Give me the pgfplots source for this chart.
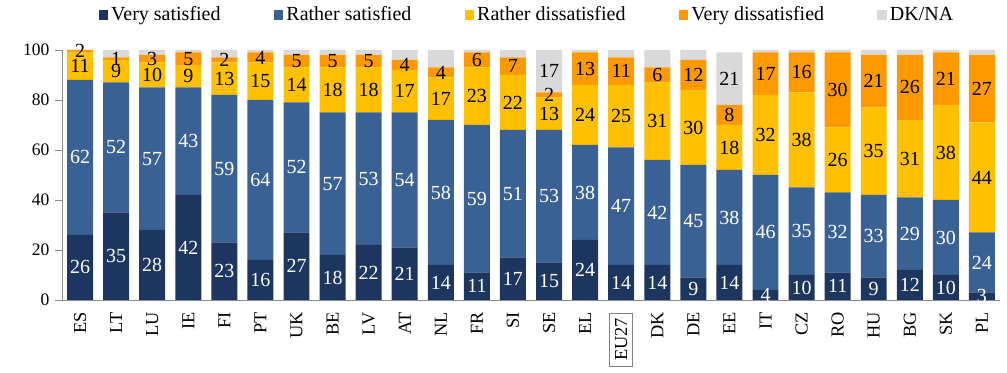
\documentclass[border=0pt]{standalone}
\usepackage{pgfplots}
\pgfplotsset{compat=1.18}
\usepackage{pgfplotstable}
\usepackage{fontspec}
\setmainfont{Liberation Serif}
\definecolor{cVS}{HTML}{1C3660}
\definecolor{cRS}{HTML}{3A6194}
\definecolor{cRD}{HTML}{FFC000}
\definecolor{cVD}{HTML}{FF9900}
\definecolor{cDK}{HTML}{D9D9D9}
\definecolor{axgray}{HTML}{8C8C8C}
\pgfplotstableread{
x vs rs rd vd dk vdl
0 26 62 11 1 0 2
1 35 52 9 1 3 1
2 28 57 10 3 2 3
3 42 43 9 5 1 5
4 23 59 13 2 3 2
5 16 64 15 4 1 4
6 27 52 14 5 2 5
7 18 57 18 5 2 5
8 22 53 18 5 2 5
9 21 54 17 4 4 4
10 14 58 17 4 7 4
11 11 59 23 6 1 6
12 17 51 22 7 3 7
13 15 53 13 2 17 2
14 24 38 24 13 1 13
15 14 47 25 11 3 11
16 14 42 31 6 7 6
17 9 45 30 12 4 12
18 14 38 18 8 21 8
19 4 46 32 17 1 17
20 10 35 38 16 1 16
21 11 32 26 30 1 30
22 9 33 35 21 2 21
23 12 29 31 26 2 26
24 10 30 38 21 1 21
25 3 24 44 27 2 27
}\data
\pgfplotsset{
  seg/.style n args={3}{fill=#2, draw=none,
    visualization depends on={\thisrow{#1} \as \myval},
    nodes near coords={\pgfmathprintnumber{\myval}},
    every node near coord/.append style={text=#3, anchor=center,
      font=\fontsize{12}{12}\selectfont, inner sep=0pt}}
}
\begin{document}
\begin{tikzpicture}
\begin{axis}[
  scale only axis, width=562.8pt, height=150pt,
  ybar stacked, bar width=0.72,
  xmin=-0.5, xmax=25.5, ymin=0, ymax=100, enlargelimits=false,
  axis x line*=bottom, axis y line*=left,
  axis line style={axgray},
  every tick/.style={axgray},
  tick align=outside,
  ytick={0,20,...,100},
  major tick length=4pt,
  xtick=data,
  x tick style={draw=none},
  minor xtick={-0.5,0.5,...,25.5},
  minor x tick style={axgray},
  minor tick length=4pt,
  xticklabels={ES,LT,LU,IE,FI,PT,UK,BE,LV,AT,NL,FR,SI,SE,EL,{\fcolorbox{gray}{white}{EU27}},DK,DE,EE,IT,CZ,RO,HU,BG,SK,PL},
  x tick label style={rotate=90, anchor=east, font=\fontsize{11}{11}\selectfont},
  y tick label style={font=\fontsize{10.5}{10.5}\selectfont},
  /pgf/number format/assume math mode=true,
  legend columns=5,
  legend style={draw=none, at={(0.5,1)}, anchor=center, yshift=21pt, xshift=-2pt,
    font=\fontsize{12}{12}\selectfont,
    /tikz/every even column/.append style={column sep=30pt}},
  legend image code/.code={\fill[#1] (0pt,-3pt) rectangle (5.5pt,3pt);},
]
\addplot[seg={vs}{cVS}{white}] table[x=x, y=vs] {\data};
\addplot[seg={rs}{cRS}{white}] table[x=x, y=rs] {\data};
\addplot[seg={rd}{cRD}{black}] table[x=x, y=rd] {\data};
\addplot[fill=cVD, draw=none,
    visualization depends on={\thisrow{vdl} \as \mylab},
    nodes near coords={\pgfmathprintnumber{\mylab}},
    every node near coord/.append style={text=black, anchor=center,
      font=\fontsize{12}{12}\selectfont, inner sep=0pt}] table[x=x, y=vd] {\data};
\addplot[fill=cDK, draw=none,
    visualization depends on={\thisrow{dk} \as \myval},
    nodes near coords={\ifdim\myval pt>10pt\pgfmathprintnumber{\myval}\fi},
    every node near coord/.append style={text=black, anchor=center,
      font=\fontsize{12}{12}\selectfont, inner sep=0pt}] table[x=x, y=dk] {\data};
\legend{Very satisfied, Rather satisfied, Rather dissatisfied, Very dissatisfied, DK/NA}
\coordinate (ll) at (rel axis cs:0,0);
\coordinate (ur) at (rel axis cs:1,1);
\end{axis}
\path ([xshift=-37.2pt,yshift=-42.6pt]ll) rectangle ([xshift=4.2pt,yshift=28.2pt]ur);
\end{tikzpicture}
\end{document}
